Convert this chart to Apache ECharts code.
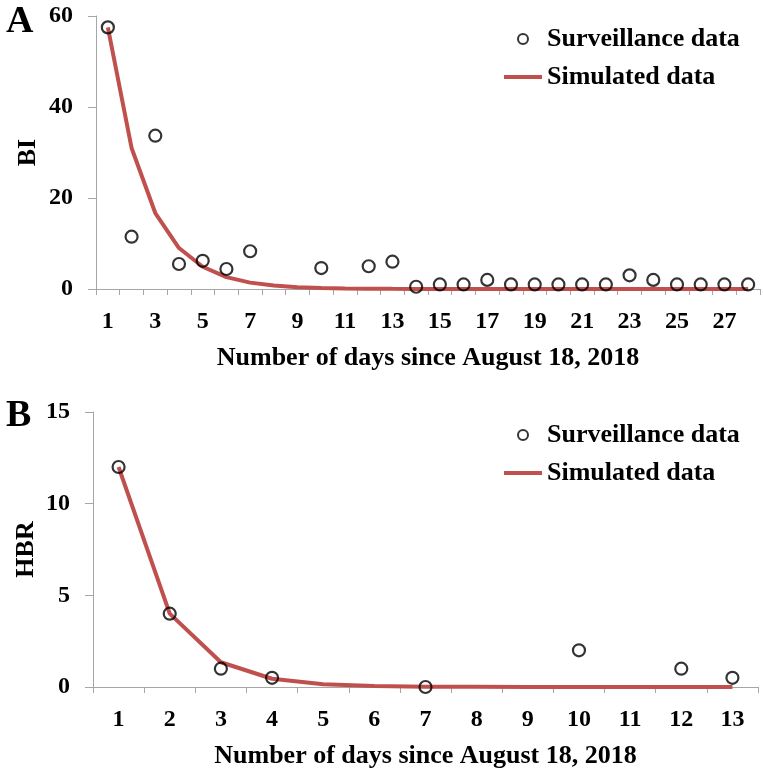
<!DOCTYPE html>
<html>
<head>
<meta charset="utf-8">
<script src="https://cdn.jsdelivr.net/npm/echarts@6/dist/echarts.min.js"></script>
<style>
html,body{margin:0;padding:0;background:#fff;}
#chart{width:763px;height:770px;}
</style>
</head>
<body>
<div id="chart"></div>
<script>
// ---- Data ----
var daysA = ['1','2','3','4','5','6','7','8','9','10','11','12','13','14','15','16','17','18','19','20','21','22','23','24','25','26','27','28'];
var surveillanceBI = [57.5, 11.5, 33.7, 5.5, 6.2, 4.4, 8.3, null, null, 4.6, null, 5.0, 6.0, 0.5, 1, 1, 2, 1, 1, 1, 1, 1, 3, 2, 1, 1, 1, 1];
var simulatedBI = [57.5, 31, 16.7, 9.0, 4.9, 2.6, 1.4, 0.75, 0.4, 0.22, 0.12, 0.06, 0.03, 0.02, 0.01, 0, 0, 0, 0, 0, 0, 0, 0, 0, 0, 0, 0, 0];

var daysB = ['1','2','3','4','5','6','7','8','9','10','11','12','13'];
var surveillanceHBR = [12, 4, 1, 0.5, null, null, 0, null, null, 2, null, 1, 0.5];
var simulatedHBR = [12, 4.0, 1.35, 0.45, 0.15, 0.05, 0.02, 0.01, 0, 0, 0, 0, 0];

var seriesNames = ['Surveillance data', 'Simulated data'];
var axisTitleX = 'Number of days since August 18, 2018';
var panelLabels = ['A', 'B'];
var yNames = ['BI', 'HBR'];

// ---- Styles ----
var FONT = 'Liberation Serif';
var AXIS_GRAY = '#a6a6a6';
var RED = '#C0504D';

function nz(arr){ return arr.map(function(v){ return v === null ? '-' : v; }); }

function xAxisCfg(gridIndex, cats, labelInterval){
  return {
    type: 'category', gridIndex: gridIndex, data: cats, boundaryGap: true,
    axisLine: {lineStyle: {color: AXIS_GRAY, width: 1}},
    axisTick: {show: true, interval: 0, length: 6, lineStyle: {color: AXIS_GRAY}},
    axisLabel: {interval: labelInterval, margin: 21, color: '#000', fontFamily: FONT, fontWeight: 'bold', fontSize: 24},
    splitLine: {show: false},
    name: axisTitleX, nameLocation: 'middle', nameGap: 56, nameMoveOverlap: false,
    nameTextStyle: {color: '#000', fontFamily: FONT, fontWeight: 'bold', fontSize: 26}
  };
}
function yAxisCfg(gridIndex, max, interval, name, margin, gap){
  return {
    type: 'value', gridIndex: gridIndex, min: 0, max: max, interval: interval,
    axisLine: {show: true, lineStyle: {color: AXIS_GRAY, width: 1}},
    axisTick: {show: true, length: 8, lineStyle: {color: AXIS_GRAY}},
    axisLabel: {margin: margin, color: '#000', fontFamily: FONT, fontWeight: 'bold', fontSize: 24},
    splitLine: {show: false},
    name: name, nameLocation: 'middle', nameGap: gap, nameRotate: 90, nameMoveOverlap: false,
    nameTextStyle: {color: '#000', fontFamily: FONT, fontWeight: 'bold', fontSize: 26}
  };
}
function legendCfg(top){
  return {
    orient: 'vertical', left: 499, top: top, itemWidth: 38, itemHeight: 10, itemGap: 12,
    textStyle: {color: '#000', fontFamily: FONT, fontWeight: 'bold', fontSize: 26},
    data: [
      {name: seriesNames[0], icon: 'circle'},
      {name: seriesNames[1], icon: 'path://M0,3 L38,3 L38,7 L0,7 Z'}
    ]
  };
}
function scatterCfg(idx, data){
  return {
    name: seriesNames[0], type: 'scatter', xAxisIndex: idx, yAxisIndex: idx,
    data: nz(data), symbol: 'circle', symbolSize: 12, z: 5,
    itemStyle: {color: 'rgba(255,255,255,0)', borderColor: '#000', borderWidth: 2.2},
    emphasis: {disabled: true}
  };
}
function lineCfg(idx, data){
  return {
    name: seriesNames[1], type: 'line', xAxisIndex: idx, yAxisIndex: idx,
    data: data, symbol: 'none', showSymbol: false, z: 3,
    lineStyle: {color: RED, width: 4}, itemStyle: {color: RED},
    emphasis: {disabled: true}
  };
}

var chart = echarts.init(document.getElementById('chart'), null, {renderer: 'canvas'});
chart.setOption({
  animation: false,
  backgroundColor: '#fff',
  title: [
    {text: panelLabels[0], left: 1, top: -2, textStyle: {color: '#000', fontFamily: FONT, fontWeight: 'bold', fontSize: 38}},
    {text: panelLabels[1], left: 1, top: 392, textStyle: {color: '#000', fontFamily: FONT, fontWeight: 'bold', fontSize: 38}}
  ],
  legend: [legendCfg(21), legendCfg(417)],
  grid: [
    {left: 96, right: 3, top: 16, height: 273},
    {left: 93, right: 5, top: 412, height: 277}
  ],
  xAxis: [xAxisCfg(0, daysA, 1), xAxisCfg(1, daysB, 0)],
  yAxis: [yAxisCfg(0, 60, 20, yNames[0], 23, 55), yAxisCfg(1, 15, 5, yNames[1], 23, 54)],
  series: [
    lineCfg(0, simulatedBI), scatterCfg(0, surveillanceBI),
    lineCfg(1, simulatedHBR), scatterCfg(1, surveillanceHBR)
  ]
});
</script>
</body>
</html>
